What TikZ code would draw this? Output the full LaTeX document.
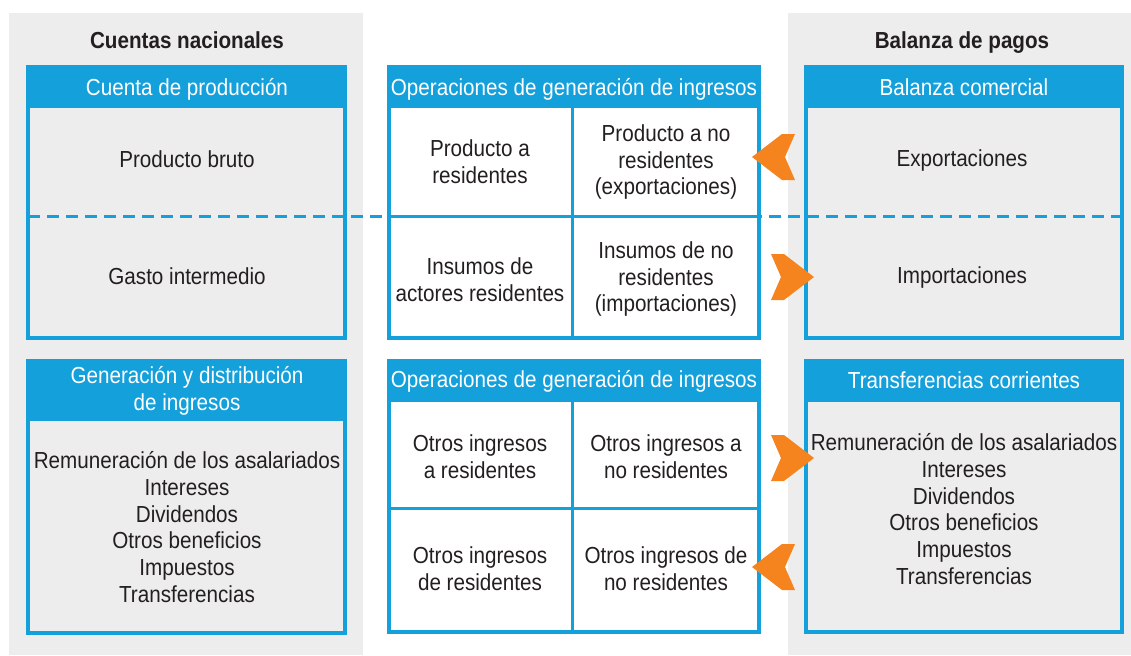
\documentclass[tikz,border=0pt]{standalone}
\usepackage{fontspec}
\setmainfont{Liberation Sans}[FakeStretch=0.89]
\usetikzlibrary{positioning}
\definecolor{cblue}{RGB}{20,160,219}
\definecolor{cgray}{RGB}{237,237,237}
\definecolor{corange}{RGB}{245,132,31}
\definecolor{ctext}{RGB}{35,31,32}
\tikzset{chevl/.pic={\fill[corange] (0,0)--(30,-23)--(43,-23)--(33,0)--(43,23)--(30,23)--cycle;}}

\begin{document}
\begin{tikzpicture}[line join=miter,x=0.5pt,y=-0.5pt,
  panel/.style={fill=cgray},
  frame/.style={draw=cblue,line width=2pt},
  cut/.style={draw=cblue,line width=1.5pt},
  head/.style={fill=cblue},
  htxt/.style={text=white,align=center,font=\fontsize{11.6}{13.4}\selectfont},
  btxt/.style={text=ctext,align=center,font=\fontsize{11.6}{13.4}\selectfont},
  ttl/.style={text=ctext,anchor=base,font=\bfseries\fontsize{11.6}{13.4}\selectfont}]
\useasboundingbox (0,0) rectangle (1131,655);
% fondos
\fill[panel] (9,13) rectangle (363,655);
\fill[panel] (788,13) rectangle (1131,655);
\node[ttl] (cn) at (187,48) {Cuentas nacionales};
\node[ttl] (bp) at (962,48) {Balanza de pagos};
% linea punteada
\draw[cblue,line width=1.5pt,dash pattern=on 6pt off 3.5pt] (28,216)--(1122,216);
% cuenta de produccion
\fill[head] (26,65) rectangle (347,108);
\draw[frame] (28,67) rectangle (345,338);
\node[htxt,anchor=base] (hprod) at (187,95) {Cuenta de producción};
\node[btxt,anchor=base] (pbruto) at (187,167) {Producto bruto};
\node[btxt,anchor=base] (gasto) at (187,284) {Gasto intermedio};
% operaciones (arriba)
\fill[white] (387,65) rectangle (761,340);
\fill[head] (387,65) rectangle (761,108);
\draw[frame] (389,67) rectangle (759,338);
\draw[cut] (572,108)--(572,338) (389,216)--(759,216);
\node[htxt,anchor=base] (hop1) at (574,95) {Operaciones de generación de ingresos};
\node[btxt] (pres) at (480,162) {Producto a\\residentes};
\node[btxt] (pnores) at (666,162) {Producto a no\\residentes\\(exportaciones)};
\node[btxt] (ires) at (480,280) {Insumos de\\actores residentes};
\node[btxt] (inores) at (666,279) {Insumos de no\\residentes\\(importaciones)};
% balanza comercial
\fill[head] (804,65) rectangle (1124,108);
\draw[frame] (806,67) rectangle (1122,338);
\node[htxt,anchor=base] (hbal) at (964,95) {Balanza comercial};
\node[btxt,anchor=base] (expo) at (962,166) {Exportaciones};
\node[btxt,anchor=base] (impo) at (962,283) {Importaciones};
% generacion y distribucion
\fill[head] (26,359) rectangle (347,421);
\draw[frame] (28,361) rectangle (345,633);
\node[htxt] (hgen) at (187,391) {Generación y distribución\\de ingresos};
\node[btxt] (lgen) at (187,527) {Remuneración de los asalariados\\Intereses\\Dividendos\\Otros beneficios\\Impuestos\\Transferencias};
% operaciones (abajo)
\fill[white] (387,359) rectangle (761,634);
\fill[head] (387,359) rectangle (761,402);
\draw[frame] (389,361) rectangle (759,632);
\draw[cut] (572,402)--(572,632) (389,508)--(759,508);
\node[htxt,anchor=base] (hop2) at (574,387) {Operaciones de generación de ingresos};
\node[btxt] (oares) at (480,457) {Otros ingresos\\a residentes};
\node[btxt] (oanores) at (666,457) {Otros ingresos a\\no residentes};
\node[btxt] (odres) at (480,569) {Otros ingresos\\de residentes};
\node[btxt] (odnores) at (666,569) {Otros ingresos de\\no residentes};
% transferencias corrientes
\fill[head] (804,359) rectangle (1124,402);
\draw[frame] (806,361) rectangle (1122,632);
\node[htxt,anchor=base] (htra) at (964,388) {Transferencias corrientes};
\node[btxt] (ltra) at (964,509) {Remuneración de los asalariados\\Intereses\\Dividendos\\Otros beneficios\\Impuestos\\Transferencias};
% flechas
\pic at (752,157) {chevl};
\pic[xscale=-1] at (814,277) {chevl};
\pic[xscale=-1] at (814,458) {chevl};
\pic at (752,567) {chevl};
\end{tikzpicture}
\end{document}
